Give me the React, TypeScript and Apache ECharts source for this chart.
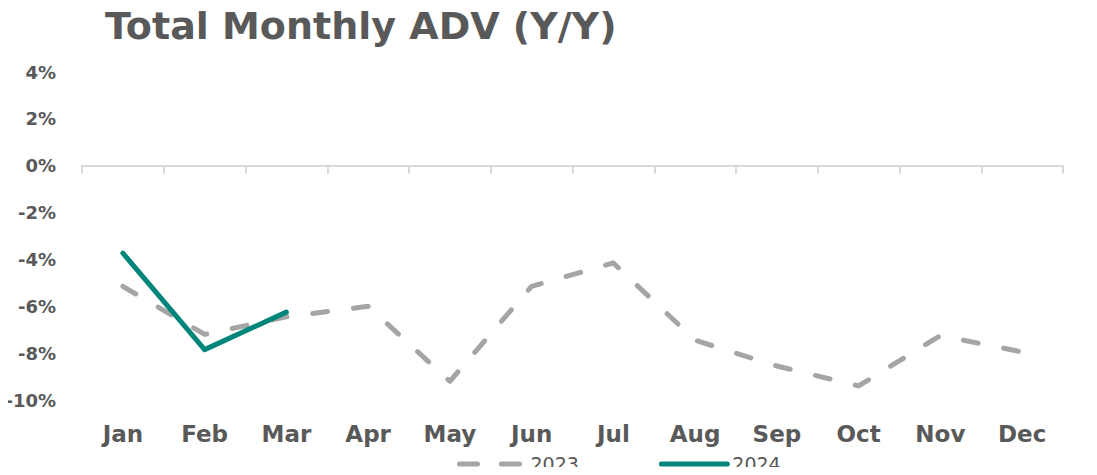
import React, { useEffect, useRef } from "react";
import * as echarts from "echarts";

const months = ["Jan", "Feb", "Mar", "Apr", "May", "Jun", "Jul", "Aug", "Sep", "Oct", "Nov", "Dec"];
const adv2023 = [-5.15, -7.2, -6.45, -6.0, -9.2, -5.15, -4.15, -7.45, -8.55, -9.4, -7.25, -7.95];
const adv2024 = [-3.73, -7.85, -6.25];
const yTicks = { min: -10, max: 4, interval: 2 };

const FONT = "'DejaVu Sans', Verdana, sans-serif";
const TEXT = "#595959";

export default function App() {
  const ref = useRef<HTMLDivElement>(null);
  useEffect(() => {
    if (!ref.current) return;
    const chart = echarts.init(ref.current, null, { renderer: "svg" });
    chart.setOption({
      animation: false,
      title: {
        text: "Total Monthly ADV (Y/Y)",
        left: 100,
        top: 2,
        textStyle: { fontFamily: FONT, fontSize: 38, fontWeight: "bold", color: TEXT },
      },
      grid: { left: 82, right: 34, top: 72, bottom: 75 },
      legend: {
        left: 452,
        top: 449,
        itemWidth: 66,
        itemHeight: 12,
        itemGap: 80,
        itemStyle: { opacity: 0 },
        lineStyle: { width: 5, cap: "round" },
        textStyle: { fontFamily: FONT, fontSize: 19, color: TEXT, lineHeight: 20 },
        data: [
          { name: "2023", lineStyle: { width: 5, type: [18, 24], cap: "round" } },
          { name: "2024" },
        ],
      },
      xAxis: [
        {
          type: "category",
          data: months,
          boundaryGap: true,
          axisLine: { onZero: true, lineStyle: { color: "#D9D9D9", width: 2 } },
          axisTick: { show: true, length: 8, lineStyle: { color: "#D9D9D9", width: 2 } },
          axisLabel: { show: false },
        },
        {
          type: "category",
          data: months,
          position: "bottom",
          boundaryGap: true,
          axisLine: { show: false, onZero: false },
          axisTick: { show: false },
          axisLabel: {
            margin: 22,
            fontFamily: FONT,
            fontSize: 23,
            fontWeight: "bold",
            color: TEXT,
          },
        },
      ],
      yAxis: {
        type: "value",
        min: yTicks.min,
        max: yTicks.max,
        interval: yTicks.interval,
        splitLine: { show: false },
        axisLine: { show: false },
        axisTick: { show: false },
        axisLabel: {
          margin: 26,
          formatter: "{value}%",
          fontFamily: FONT,
          fontSize: 18,
          fontWeight: "bold",
          color: TEXT,
        },
      },
      series: [
        {
          name: "2023",
          type: "line",
          xAxisIndex: 0,
          data: adv2023,
          symbol: "none",
          lineStyle: { color: "#A5A5A5", width: 5, type: [15, 26], cap: "round", join: "round" },
          itemStyle: { color: "#A5A5A5" },
        },
        {
          name: "2024",
          type: "line",
          xAxisIndex: 0,
          data: adv2024,
          symbol: "none",
          lineStyle: { color: "#00857A", width: 5, cap: "round", join: "round" },
          itemStyle: { color: "#00857A" },
        },
      ],
    });
    return () => chart.dispose();
  }, []);
  return <div ref={ref} style={{ width: 1097, height: 475, margin: -8 }} />;
}
